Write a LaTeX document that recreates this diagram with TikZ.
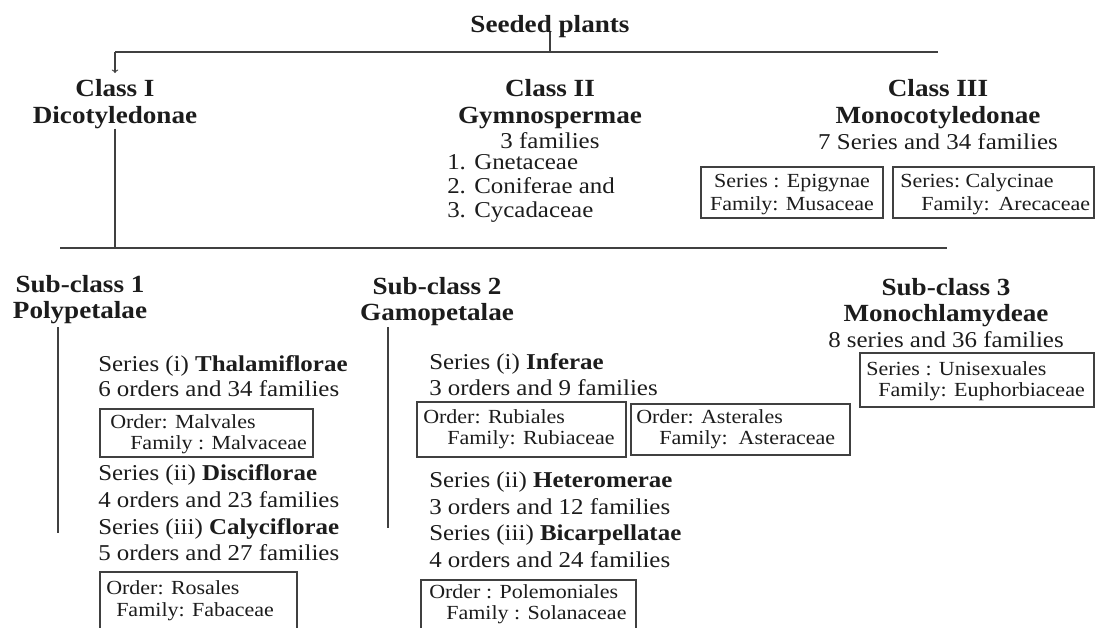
\documentclass[tikz,border=0pt]{standalone}
\usepackage{fontspec}
\setmainfont{Liberation Serif}[FakeStretch=1.1]
\usetikzlibrary{fit}
\definecolor{ink}{RGB}{28,28,28}
\definecolor{rule}{RGB}{64,64,64}
\tikzset{
  head/.style={font=\fontsize{18.5}{22}\selectfont\bfseries, text=ink, inner sep=0pt, anchor=base},
  txt/.style={font=\fontsize{17}{20}\selectfont, text=ink, inner sep=0pt, anchor=base west},
  ctxt/.style={txt, anchor=base},
  boxtxt/.style={font=\fontsize{15}{18}\selectfont, text=ink, inner sep=0pt, anchor=base west},
  fambox/.style={draw=rule, line width=1.3pt, inner sep=0pt},
  branch/.style={draw=rule, line width=1.4pt},
}
\begin{document}
\begin{tikzpicture}[x=0.75pt, y=-0.75pt, >=to]
    \clip (0,0) rectangle (1096,628);

    % Корень
    \node[head] (seed) at (550,32) {Seeded plants};
    \coordinate (tl) at (115,52);
    \coordinate (tr) at (938,52);
    \coordinate (arr) at (115,73);
    \draw[branch, line width=1.3pt] (tl) -- (tr);
    \draw[branch, line width=1.3pt] (seed.base) -- (seed.base |- tl);
    \draw[->, rule, line width=0.8pt] (tl) -- (arr);

    % Класс I
    \node[head] (cl1) at (115,96) {Class I};
    \node[head] (dicot) at (115,123) {Dicotyledonae};

    % Класс II
    \node[head] (cl2) at (550,96) {Class II};
    \node[head] (gymno) at (550,123) {Gymnospermae};
    \node[ctxt] (gymfam) at (550,148) {3 families};
    \foreach \i/\t in {1/Gnetaceae, 2/Coniferae and, 3/Cycadaceae}
        \node[txt] (gym\i) at (447,145+24*\i) {\i. \t};

    % Класс III
    \node[head] (cl3) at (938,96) {Class III};
    \node[head] (mono) at (938,123) {Monocotyledonae};
    \node[ctxt] (monofam) at (938,149) {7 Series and 34 families};
    \node[fambox, fit={(701,167) (883,218)}] (epibox) {};
    \node[boxtxt, anchor=base] (epi1) at (792,187) {Series : Epigynae};
    \node[boxtxt, anchor=base] (epi2) at (792,210) {Family: Musaceae};
    \node[fambox, fit={(893,167) (1094,218)}] (calbox) {};
    \node[boxtxt] (cal1) at (900,187) {Series:\ Calycinae};
    \node[boxtxt] (cal2) at (921,210) {Family:\,\ Arecaceae};

    % Вторая линия и подклассы
    \coordinate (ml) at (60,248);
    \coordinate (mr) at (947,248);
    \draw[branch, line width=1.6pt] (ml) -- (mr);
    \draw[branch] (dicot.south) -- (dicot.south |- ml);

    \node[head] (sub1) at (80,292) {Sub-class 1};
    \node[head] (poly) at (80,318) {Polypetalae};
    \node[head] (sub2) at (437,294) {Sub-class 2};
    \node[head] (gamo) at (437,320) {Gamopetalae};
    \node[head] (sub3) at (946,295) {Sub-class 3};
    \node[head] (monoch) at (946,321) {Monochlamydeae};
    \node[ctxt] (monochfam) at (946,347) {8 series and 36 families};
    \node[fambox, fit={(860,353) (1094,407)}] (unibox) {};
    \node[boxtxt] (uni1) at (866,375) {Series : Unisexuales};
    \node[boxtxt] (uni2) at (878,396) {Family: Euphorbiaceae};

    \coordinate (s1top) at (58,327);
    \coordinate (s1bot) at (58,533);
    \coordinate (s2top) at (388,327);
    \coordinate (s2bot) at (388,528);
    \draw[branch] (s1top) -- (s1bot);
    \draw[branch] (s2top) -- (s2bot);

    % Подкласс 1
    \node[txt] (thal) at (98,371) {Series (i) \textbf{Thalamiflorae}};
    \node[txt] (thalfam) at (98,396) {6 orders and 34 families};
    \node[fambox, fit={(100,409) (313,457)}] (malbox) {};
    \node[boxtxt] (mal1) at (110,428) {Order: Malvales};
    \node[boxtxt] (mal2) at (130,449) {Family : Malvaceae};
    \node[txt] (disc) at (98,480) {Series (ii) \textbf{Disciflorae}};
    \node[txt] (discfam) at (98,507) {4 orders and 23 families};
    \node[txt] (caly) at (98,534) {Series (iii) \textbf{Calyciflorae}};
    \node[txt] (calyfam) at (98,560) {5 orders and 27 families};
    \node[fambox, fit={(100,572) (297,634)}] (rosbox) {};
    \node[boxtxt] (ros1) at (106,594) {Order: Rosales};
    \node[boxtxt] (ros2) at (116,616) {Family: Fabaceae};

    % Подкласс 2
    \node[txt] (infe) at (429,369) {Series (i) \textbf{Inferae}};
    \node[txt] (infefam) at (429,395) {3 orders and 9 families};
    \node[fambox, fit={(417,402) (626,457)}] (rubbox) {};
    \node[boxtxt] (rub1) at (423,423) {Order: Rubiales};
    \node[boxtxt] (rub2) at (447,444) {Family: Rubiaceae};
    \node[fambox, fit={(631,404) (850,455)}] (astbox) {};
    \node[boxtxt] (ast1) at (636,423) {Order: Asterales};
    \node[boxtxt] (ast2) at (659,444) {Family:\ \ Asteraceae};
    \node[txt] (hete) at (429,487) {Series (ii) \textbf{Heteromerae}};
    \node[txt] (hetefam) at (429,514) {3 orders and 12 families};
    \node[txt] (bica) at (429,540) {Series (iii) \textbf{Bicarpellatae}};
    \node[txt] (bicafam) at (429,567) {4 orders and 24 families};
    \node[fambox, fit={(421,580) (636,634)}] (polbox) {};
    \node[boxtxt] (pol1) at (429,598) {Order : Polemoniales};
    \node[boxtxt] (pol2) at (446,619) {Family : Solanaceae};
\end{tikzpicture}
\end{document}
